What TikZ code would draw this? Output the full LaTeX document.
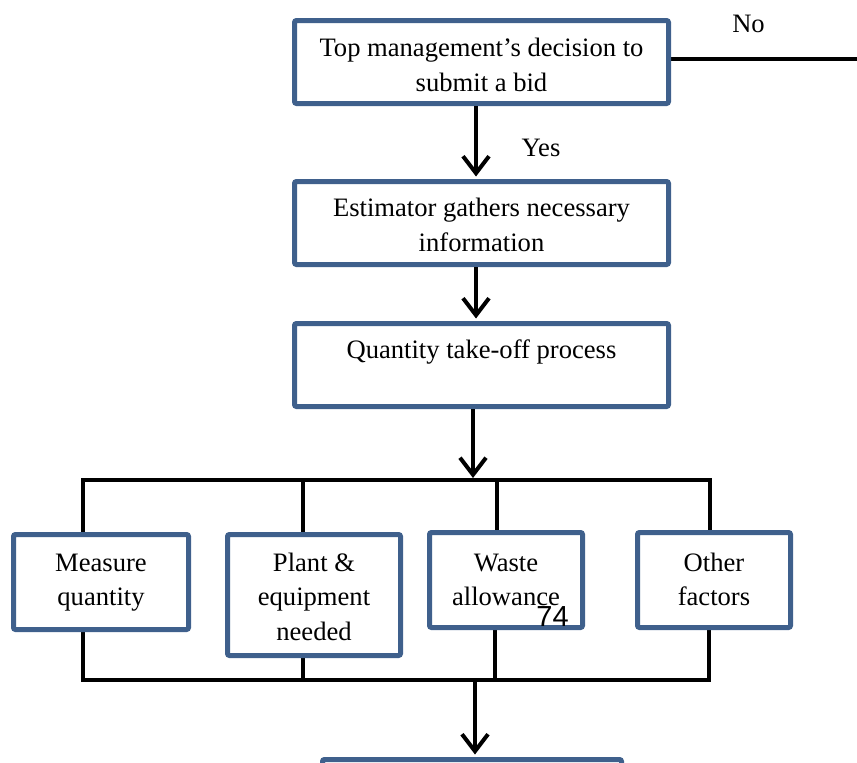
\documentclass[tikz,border=0pt]{standalone}
\usepackage{fontspec}
\setmainfont{Liberation Serif}
\newfontfamily\digitfont{Liberation Sans}
\usetikzlibrary{arrows.meta}
\definecolor{boxblue}{RGB}{63,96,140}
\pgfdeclarelayer{bg}
\pgfsetlayers{bg,main}
\begin{document}
\begin{tikzpicture}[x=1pt,y=-1pt,
  box/.style={draw=boxblue, line width=5pt, rounded corners=2pt, fill=white, inner sep=0pt},
  txt/.style={inner sep=0pt, align=center, font=\fontsize{26.6}{34.5}\selectfont},
  word/.style={inner sep=0pt, anchor=base, font=\fontsize{26.6}{34.5}\selectfont},
  wire/.style={line width=4pt, black},
  arr/.style={wire, -{Straight Barb[length=17pt,width=26pt]}, shorten >=2.5pt}]
\useasboundingbox (0,0) rectangle (857,763);
\clip (0,0) rectangle (857,763);

% main column of process boxes
\node[box, minimum width=374pt, minimum height=83pt] (top)  at (481.5,62)  {};
\node[box, minimum width=374pt, minimum height=83pt] (info) at (481.5,223) {};
\node[box, minimum width=374pt, minimum height=83pt] (qto)  at (481.5,365) {};

% the four take-off components
\node[box, minimum width=175pt, minimum height=95pt]  (m1) at (101,582) {};
\node[box, minimum width=173pt, minimum height=121pt] (m2) at (314,595) {};
\node[box, minimum width=153pt, minimum height=95pt]  (m3) at (506,580) {};
\node[box, minimum width=153pt, minimum height=95pt]  (m4) at (714,580) {};

% next step, running off the page
\node[box, minimum width=299pt, minimum height=83pt] (final) at (472,801) {};

% box texts
\node[txt, anchor=north] (topT)  at (481.5,32.55)  {\strut Top management’s decision to\\submit a bid};
\node[txt, anchor=north] (infoT) at (481.5,192.55) {\strut Estimator gathers necessary\\information};
\node[word] (qtoT) at (481.5,358.3) {Quantity take-off process};
\node[txt, anchor=north] (m1T) at (101,546.85) {\strut Measure\\quantity};
\node[txt, anchor=north] (m2T) at (314,546.85) {\strut Plant \&\\equipment\\needed};
\node[txt, anchor=north] (m3T) at (506,546.85) {\strut Waste\\allowance};
\node[txt, anchor=north] (m4T) at (714,546.85) {\strut Other\\factors};

% decision labels
\node[word] (no)  at (748.5,32.3)  {No};
\node[word] (yes) at (541,156.7)   {Yes};

% page number
\node[inner sep=0pt, anchor=base, font=\digitfont\fontsize{29}{34}\selectfont] (pnum) at (552.5,626.6) {74};

% junction points of the two distribution bars
\coordinate (noEnd) at (857,59);
\coordinate (t1) at (83,480);
\coordinate (t2) at (303,480);
\coordinate (t3) at (497,480);
\coordinate (t4) at (710,480);
\coordinate (tq) at (473,480);
\coordinate (b1) at (83,680);
\coordinate (b2) at (303,680);
\coordinate (b3) at (495,680);
\coordinate (b4) at (709,680);
\coordinate (bq) at (475,680);

\begin{pgfonlayer}{bg}
  % "No" branch
  \draw[wire] (top.east |- noEnd) -- (noEnd);
  % upper bar feeding the components
  \draw[wire] (m1.north -| t1) -- (t1) -- (t4) -- (m4.north -| t4);
  \draw[wire] (t2) -- (m2.north -| t2);
  \draw[wire] (t3) -- (m3.north -| t3);
  % lower bar collecting the components
  \draw[wire] (m1.south -| b1) -- (b1) -- (b4) -- (m4.south -| b4);
  \draw[wire] (b2) -- (m2.south -| b2);
  \draw[wire] (b3) -- (m3.south -| b3);
\end{pgfonlayer}

% flow arrows
\draw[arr] ([xshift=-5.5pt]top.south) -- ([xshift=-5.5pt]info.north);
\draw[arr] ([xshift=-5.5pt]info.south) -- ([xshift=-5.5pt]qto.north);
\draw[arr, shorten >=2pt] (qto.south -| tq) -- (tq);
\draw[arr] (bq) -- (final.north -| bq);
\end{tikzpicture}
\end{document}
